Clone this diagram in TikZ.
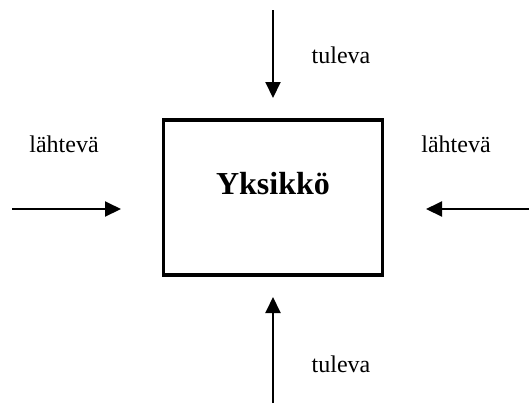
\documentclass[tikz,border=0pt]{standalone}
\usepackage{fontspec}
\setmainfont{Liberation Serif}
\usetikzlibrary{arrows.meta}

\tikzset{
	flow/.style = {line width=1pt, -{Triangle[length=8pt, width=7.5pt]}},
	unitbox/.style = {draw, line width=1.7pt, minimum width=109.5pt, minimum height=77.5pt, inner sep=0pt},
	tag/.style = {font=\fontsize{12}{14}\selectfont, anchor=base}
}

\begin{document}
\begin{tikzpicture}[x = .5pt, y = -.5pt]
				\useasboundingbox (0,0) rectangle (529,403);
				\node[unitbox] (box) at (273,197.5) {};
				\node[font=\fontsize{16}{19}\selectfont\bfseries] (name) at (273,184) {Yksikkö};
				% arrow ends
				\coordinate (tin0) at (273,10);   \coordinate (tin1) at (273,98);
				\coordinate (bin0) at (273,403);  \coordinate (bin1) at (273,297);
				\coordinate (lout0) at (12,209);  \coordinate (lout1) at (121,209);
				\coordinate (rout0) at (529,209); \coordinate (rout1) at (426,209);
				\draw[flow] (tin0) -- (tin1);
				\draw[flow] (bin0) -- (bin1);
				\draw[flow] (lout0) -- (lout1);
				\draw[flow] (rout0) -- (rout1);
				\node[tag] (tintag) at (341,63) {tuleva};
				\node[tag] (bintag) at (341,372) {tuleva};
				\node[tag] (louttag) at (64,152) {lähtevä};
				\node[tag] (routtag) at (456,152) {lähtevä};
			\end{tikzpicture}
\end{document}
